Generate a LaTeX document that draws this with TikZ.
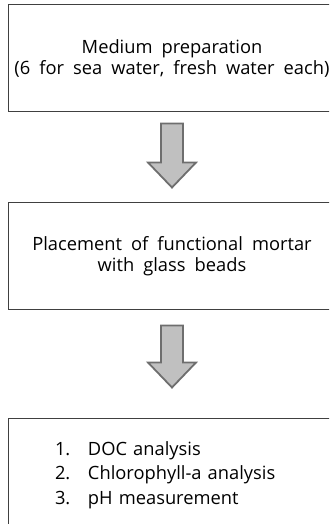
\documentclass[tikz,border=0pt]{standalone}
\usepackage{fontspec}
\setmainfont{Open Sans}[WordSpace=1.9]
\usetikzlibrary{calc}
\definecolor{boxGray}{RGB}{64,64,64}
\definecolor{arrowGray}{RGB}{110,110,110}
\definecolor{arrowFill}{RGB}{192,192,192}
\tikzset{
  stepbox/.style = {draw=#1, line width=1pt, minimum width=328pt, minimum height=107pt, inner sep=0pt},
  stepText/.style = {font=\fontsize{18.3}{21}\selectfont, align=center},
  listText/.style = {font=\fontsize{18.3}{24.5}\selectfont, text width=234pt, align=left},
  blockArrow/.style = {draw=#1, fill=arrowFill, line width=1.8pt, line join=miter}
}
\newcommand{\blockarrow}[5][]{%
  % #1: optional style
  % #2: upper node, #3: lower node
  % #4: gap below the upper node, #5: gap above the lower node
  \begin{scope}[#1]
    \coordinate (top) at ($(#2.south)+(0,#4)$);
    \coordinate (tip) at ($(#3.north)-(0,#5)$);
    % shaft and head
    \draw[blockArrow={arrowGray}] ($(top)+(-11,0)$) -- ($(top)+(11,0)$)
      -- ($(tip)+(11,-25)$) -- ($(tip)+(24,-25)$) -- (tip)
      -- ($(tip)+(-24,-25)$) -- ($(tip)+(-11,-25)$) -- cycle;
  \end{scope}
}

\begin{document}
\begin{tikzpicture}[x=1pt, y=-1pt]

    \useasboundingbox (0,0) rectangle (329,524);
    \clip (0,0) rectangle (329,524);

    % Steps
    \node[stepbox={boxGray}, stepText] (medium) at (172,58.5)
        {Medium preparation\\(6 for sea water, fresh water each)};
    \node[stepbox={boxGray}, stepText] (placement) at (172,256)
        {Placement of functional mortar\\with glass beads};
    \node[stepbox={boxGray}, listText, minimum height=114pt] (analysis) at (172,475)
        {\begin{tabular}{@{}p{33pt}@{}l@{}}
          1. & DOC analysis\\
          2. & Chlorophyll-a analysis\\
          3. & pH measurement
        \end{tabular}};

    % Arrows
    \blockarrow{medium}{placement}{11}{14.5}
    \blockarrow{placement}{analysis}{15.5}{30}

\end{tikzpicture}
\end{document}
